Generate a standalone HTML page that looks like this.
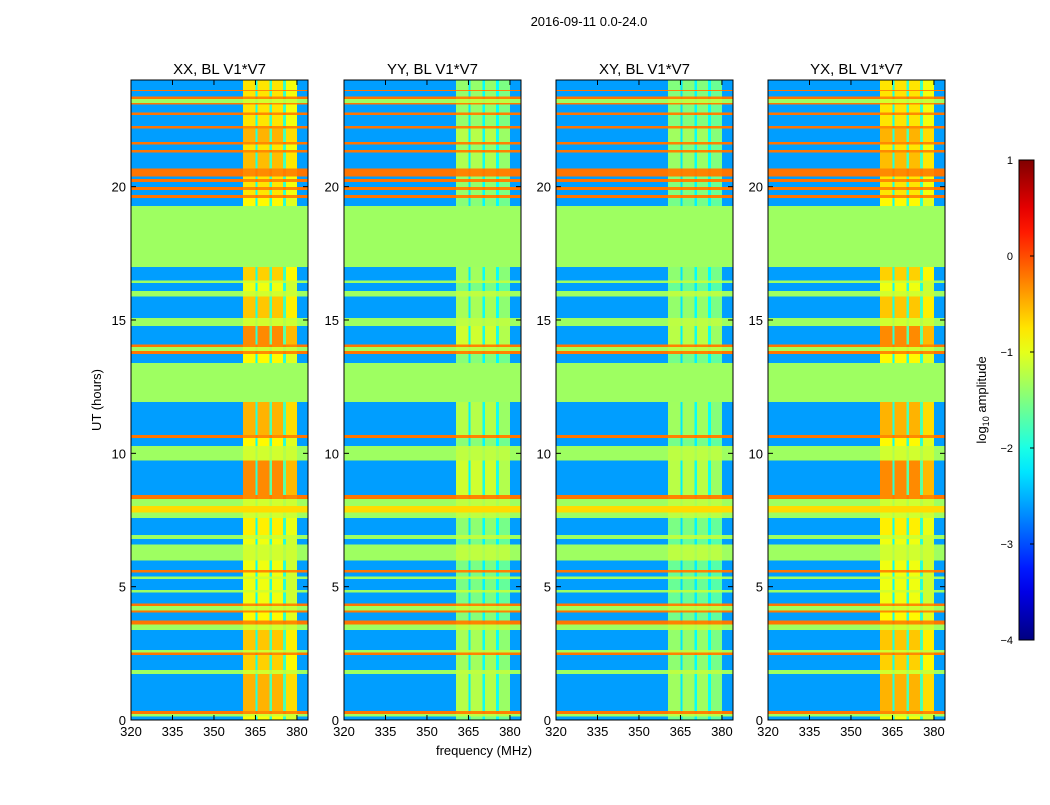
<!DOCTYPE html>
<html><head><meta charset="utf-8"><style>
body{margin:0;background:#fff;}
svg text{font-family:"Liberation Sans",sans-serif;}
</style></head><body>
<svg id="fig" width="1050" height="800" xmlns="http://www.w3.org/2000/svg">
<text x="589" y="26" font-size="13" text-anchor="middle">2016-09-11 0.0-24.0</text>
<text x="484" y="755" font-size="13" text-anchor="middle">frequency (MHz)</text>
<text x="0" y="0" font-size="13" text-anchor="middle" transform="translate(101,400) rotate(-90)">UT (hours)</text>
<g id="panels"></g>
<g id="cbar"></g>
</svg>
<script>
// ---- data ----
const panelTitles = ["XX, BL V1*V7","YY, BL V1*V7","XY, BL V1*V7","YX, BL V1*V7"];
const panelGain = [1.0, 0.65, 0.6, 1.0];
const segStart = [0,0.15,0.25,0.35,1.75,1.9,2.45,2.55,2.65,3.4,3.6,3.75,4.05,4.12,4.3,4.38,4.8,4.9,5.3,5.4,5.55,5.65,6.0,6.6,6.8,6.95,7.6,7.8,8.05,8.3,8.45,9.75,10.3,10.6,10.7,11.95,13.4,13.75,13.85,14.0,14.1,14.8,15.1,15.9,16.1,16.4,16.5,17.0,19.3,19.6,19.7,19.9,20.0,20.2,20.3,20.4,20.7,21.3,21.4,21.6,21.7,22.2,22.3,22.7,22.8,23.1,23.15,23.3,23.4,23.6,23.65];
const segEnd   = [0.15,0.25,0.35,1.75,1.9,2.45,2.55,2.65,3.4,3.6,3.75,4.05,4.12,4.3,4.38,4.8,4.9,5.3,5.4,5.55,5.65,6.0,6.6,6.8,6.95,7.6,7.8,8.05,8.3,8.45,9.75,10.3,10.6,10.7,11.95,13.4,13.75,13.85,14.0,14.1,14.8,15.1,15.9,16.1,16.4,16.5,17.0,19.3,19.6,19.7,19.9,20.0,20.2,20.3,20.4,20.7,21.3,21.4,21.6,21.7,22.2,22.3,22.7,22.8,23.1,23.15,23.3,23.4,23.6,23.65,24];
const segBg    = [-2.6,-1.35,-0.2,-2.6,-1.35,-2.6,-0.2,-1.35,-2.6,-1.35,-0.2,-2.6,-0.2,-1.35,-0.2,-2.6,-1.35,-2.6,-1.35,-2.6,-0.2,-2.6,-1.35,-2.6,-1.35,-2.6,-1.35,-0.7,-1.35,-0.2,-2.6,-1.35,-2.6,-0.2,-2.6,-1.35,-2.6,-0.2,-1.35,-0.2,-2.6,-1.35,-2.6,-1.35,-2.6,-1.35,-2.6,-1.35,-2.6,-0.2,-2.6,-0.2,-2.6,-0.2,-2.6,-0.2,-2.6,-0.2,-2.6,-0.2,-2.6,-0.2,-2.6,-0.2,-2.6,-0.2,-1.35,-0.2,-2.6,-0.2,-2.6];
const segRfi   = [-0.9,-1.1,-0.3,-0.5,-1.1,-0.65,-0.3,-1.1,-0.6,-1.1,-0.3,-0.85,-0.3,-1.1,-0.3,-0.95,-1.1,-0.95,-1.1,-0.95,-0.3,-0.95,-1.1,-0.95,-1.1,-0.8,-1.1,-0.7,-1.1,-0.3,-0.3,-1.1,-0.85,-0.3,-0.5,-1.35,-0.85,-0.3,-1.1,-0.3,-0.3,-1.1,-0.6,-1.1,-0.95,-1.1,-0.65,-1.35,-0.85,-0.3,-0.75,-0.3,-0.75,-0.3,-0.75,-0.3,-0.55,-0.3,-0.75,-0.3,-0.5,-0.3,-0.75,-0.3,-0.75,-0.3,-1.1,-0.3,-0.75,-0.3,-0.75];
const colStart  = [320,360.5,365,365.7,370,371,375,376,380];
const colEnd    = [360.5,365,365.7,370,371,375,376,380,384];
const colWeight = [0,1,0.3,1,0.4,1,0.4,0.9,0];
const xTicks = [320,335,350,365,380];
const yTicks = [0,5,10,15,20];
const cbTicks = [1,0,-1,-2,-3,-4];

// ---- scales ----
const panelX = [131,344,556,768], PW=177, PY=80, PH=640;
function xScale(p,f){return panelX[p]+(f-320)*PW/64;}
function yScale(h){return PY+PH-h*PH/24;}
function jet(v){
  const t=Math.max(0,Math.min(1,(v+4)/5));
  const c=x=>Math.round(255*Math.max(0,Math.min(1,x)));
  return `rgb(${c(1.5-Math.abs(4*t-3))},${c(1.5-Math.abs(4*t-2))},${c(1.5-Math.abs(4*t-1))})`;
}
const NS="http://www.w3.org/2000/svg";
function mk(tag,attrs,parent){const e=document.createElementNS(NS,tag);for(const k in attrs)e.setAttribute(k,attrs[k]);parent.appendChild(e);return e;}

const G=document.getElementById('panels');
for(let p=0;p<4;p++){
  const g=mk('g',{},G);
  
  
  const hm=mk('g',{'shape-rendering':'crispEdges'},g);
  
  
  for(let s=0;s<segStart.length;s++){
    const y1=yScale(segEnd[s]), y2=yScale(segStart[s]);
    for(let c=0;c<colStart.length;c++){
      const v=segBg[s]+(segRfi[s]-segBg[s])*colWeight[c]*panelGain[p];
      const x1=xScale(p,colStart[c]), x2=xScale(p,colEnd[c]);
      const r=mk('rect',{x:x1,y:y1,width:x2-x1+0.5,height:y2-y1+0.5,fill:jet(v)},hm);
      
      
    }
  }
  const fr=mk('rect',{x:panelX[p],y:PY,width:PW,height:PH,fill:'none',stroke:'#000','stroke-width':1},g);
  
  
  const t=mk('text',{x:panelX[p]+PW/2,y:74,'font-size':15,'text-anchor':'middle'},g);
  t.textContent=panelTitles[p];
  
  
  for(const f of xTicks){
    const x=xScale(p,f);
    mk('line',{x1:x,x2:x,y1:PY+PH,y2:PY+PH-5,stroke:'#000'},g);
    mk('line',{x1:x,x2:x,y1:PY,y2:PY+5,stroke:'#000'},g);
    const l=mk('text',{x:x,y:PY+PH+16,'font-size':13,'text-anchor':'middle'},g);
    l.textContent=f;
    
    
  }
  for(const h of yTicks){
    const y=yScale(h);
    mk('line',{x1:panelX[p],x2:panelX[p]+5,y1:y,y2:y,stroke:'#000'},g);
    mk('line',{x1:panelX[p]+PW,x2:panelX[p]+PW-5,y1:y,y2:y,stroke:'#000'},g);
    const l=mk('text',{x:panelX[p]-5,y:y+5,'font-size':13,'text-anchor':'end'},g);
    l.textContent=h;
    
    
  }
}
// colorbar
const CB=document.getElementById('cbar');
const defs=mk('defs',{},CB);
const lg=mk('linearGradient',{id:'jetg',x1:0,y1:1,x2:0,y2:0},defs);
for(let i=0;i<=20;i++){mk('stop',{offset:i/20,'stop-color':jet(-4+5*i/20)},lg);}
const cbX=1019,cbY=160,cbW=15,cbH=480;
function cbScale(v){return cbY+cbH-(v+4)*cbH/5;}
mk('rect',{x:cbX,y:cbY,width:cbW,height:cbH,fill:'url(#jetg)',stroke:'#000'},CB);
for(const v of cbTicks){
  const y=cbScale(v);
  mk('line',{x1:cbX+cbW-4,x2:cbX+cbW,y1:y,y2:y,stroke:'#000'},CB);
  const l=mk('text',{x:cbX-6,y:y+4,'font-size':11,'text-anchor':'end'},CB);
  l.textContent=v<0?'\u2212'+(-v):v;
  
  
}
const cl=mk('text',{x:0,y:0,'font-size':13,'text-anchor':'middle',transform:'translate(986,400) rotate(-90)'},CB);
cl.innerHTML='log<tspan font-size="9" dy="3">10</tspan><tspan dy="-3"> amplitude</tspan>';


</script>
</body></html>
